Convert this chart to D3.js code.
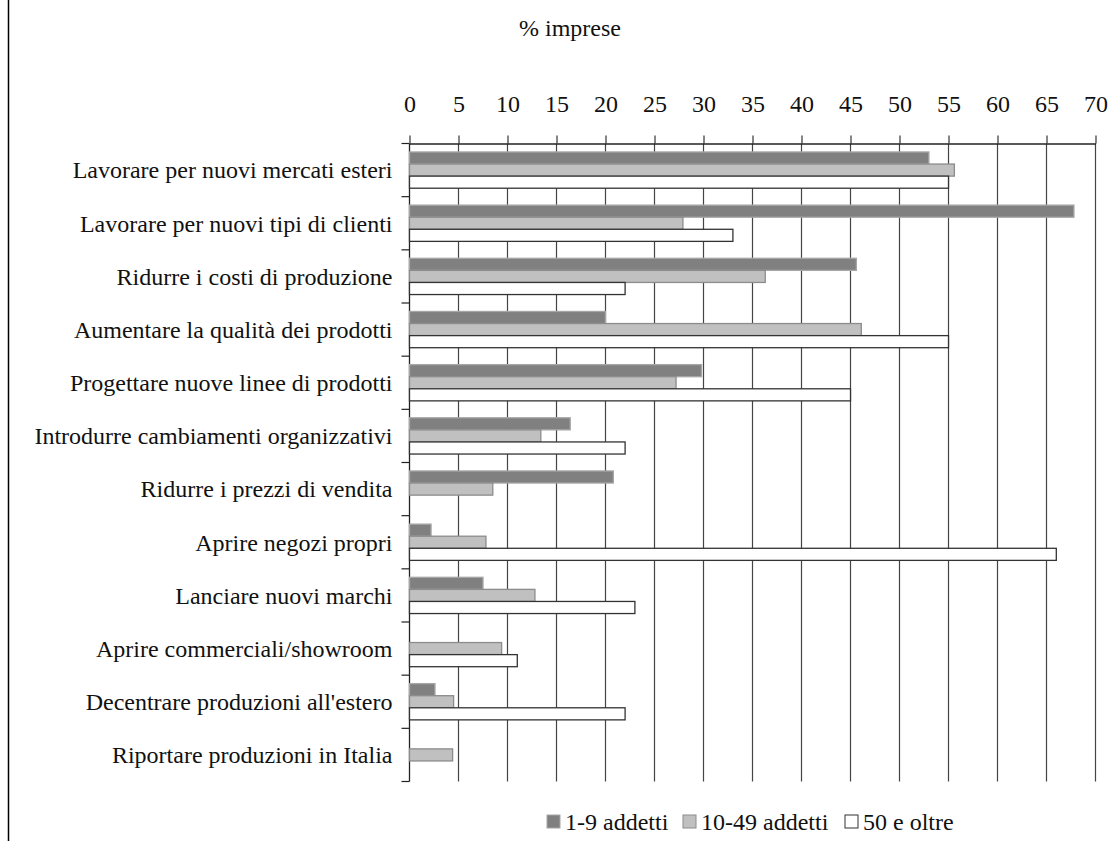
<!DOCTYPE html>
<html>
<head>
<meta charset="utf-8">
<script src="https://cdn.jsdelivr.net/npm/d3@7"></script>
<style>
  body { margin: 0; background: #fff; }
  svg { display: block; }
  svg text { font-family: "Liberation Serif", "Times New Roman", serif; }
</style>
</head>
<body>
<svg width="1120" height="841"></svg>
<script>
// categories and values (% imprese)
const categories = [
    "Lavorare per nuovi mercati esteri",
    "Lavorare per nuovi tipi di clienti",
    "Ridurre i costi di produzione",
    "Aumentare la qualità dei prodotti",
    "Progettare nuove linee di prodotti",
    "Introdurre cambiamenti organizzativi",
    "Ridurre i prezzi di vendita",
    "Aprire negozi propri",
    "Lanciare nuovi marchi",
    "Aprire commerciali/showroom",
    "Decentrare produzioni all'estero",
    "Riportare produzioni in Italia"
];
const seriesNames = ["1-9 addetti", "10-49 addetti", "50 e oltre"];
const small  = [53.0, 67.8, 45.6, 20.0, 29.8, 16.4, 20.8, 2.2, 7.5, 0, 2.6, 0];
const medium = [55.6, 27.9, 36.3, 46.1, 27.2, 13.4, 8.5, 7.8, 12.8, 9.4, 4.5, 4.4];
const large  = [55.0, 33.0, 22.0, 55.0, 45.0, 22.0, 0, 66.0, 23.0, 11.0, 22.0, 0];
const xTicks = d3.range(0, 75, 5);

const fills   = ["#808080", "#c0c0c0", "#ffffff"];
const strokes = ["#a6a6a6", "#8c8c8c", "#333333"];

const svg = d3.select("svg");

const margin = {top: 143.5, left: 409.5},
    width = 686,
    height = 638;

const x = d3.scaleLinear().domain([0, 70]).range([0, width]);
const y = d3.scaleBand().domain(categories).range([0, height]);
const inner = d3.scaleBand().domain(seriesNames).range([0, y.bandwidth()]).paddingOuter(0.7);

// page border line on the left
svg.append("line")
    .attr("x1", 8.5).attr("x2", 8.5)
    .attr("y1", 0).attr("y2", 841)
    .attr("stroke", "#000")
    .attr("stroke-width", 1.5);

const g = svg.append("g").attr("transform", `translate(${margin.left},${margin.top})`);

// vertical gridlines
g.append("g")
    .selectAll("line")
    .data(xTicks.slice(1))
    .join("line")
    .attr("x1", d => x(d)).attr("x2", d => x(d))
    .attr("y1", 0).attr("y2", height)
    .attr("stroke", "#444")
    .attr("stroke-width", 1.2);

// top axis
const xAxis = g.append("g")
    .call(d3.axisTop(x).tickValues(xTicks).tickSize(8).tickPadding(24).tickSizeOuter(0));
xAxis.attr("font-family", null);
xAxis.select(".domain").attr("stroke", "#222").attr("stroke-width", 1.3);
xAxis.selectAll(".tick line").attr("stroke", "#333").attr("stroke-width", 1.2);
xAxis.selectAll("text")
    .attr("font-size", 24)
    .attr("fill", "#111");

// left axis with ticks at band edges
const yAxis = g.append("g");
yAxis.append("line")
    .attr("x1", 0).attr("x2", 0)
    .attr("y1", 0).attr("y2", height)
    .attr("stroke", "#222").attr("stroke-width", 1.3);
yAxis.selectAll("line.edge")
    .data(d3.range(categories.length + 1))
    .join("line")
    .attr("class", "edge")
    .attr("x1", -8).attr("x2", 0)
    .attr("y1", d => d * y.step()).attr("y2", d => d * y.step())
    .attr("stroke", "#222").attr("stroke-width", 1.2);
yAxis.selectAll("text")
    .data(categories)
    .join("text")
    .attr("x", -17)
    .attr("y", d => y(d) + y.bandwidth() / 2)
    .attr("dy", "0.35em")
    .attr("text-anchor", "end")
    .attr("font-size", 24)
    .attr("fill", "#111")
    .text(d => d);

// bars
const series = [small, medium, large];
series.forEach(function (vals, i) {
    g.append("g")
        .selectAll("rect")
        .data(categories.map((c, j) => ({c: c, v: vals[j]})).filter(d => d.v > 0))
        .join("rect")
        .attr("x", 0)
        .attr("y", d => y(d.c) + inner(seriesNames[i]))
        .attr("width", d => x(d.v))
        .attr("height", inner.bandwidth())
        .attr("fill", fills[i])
        .attr("stroke", strokes[i])
        .attr("stroke-width", 1.3);
});

// title
svg.append("text")
    .attr("x", 570)
    .attr("y", 36)
    .attr("text-anchor", "middle")
    .attr("font-size", 24)
    .attr("fill", "#111")
    .text("% imprese");

// legend
const legendX = [547, 683, 845];
const legend = svg.append("g")
    .selectAll("g")
    .data(seriesNames)
    .join("g")
    .attr("transform", (d, i) => `translate(${legendX[i]},822)`);
legend.append("rect")
    .attr("x", 0).attr("y", -7)
    .attr("width", 13).attr("height", 13)
    .attr("fill", (d, i) => fills[i])
    .attr("stroke", (d, i) => i === 2 ? "#333" : strokes[i])
    .attr("stroke-width", 1);
legend.append("text")
    .attr("x", 18)
    .attr("y", 0)
    .attr("dy", "0.35em")
    .attr("font-size", 24)
    .attr("fill", "#111")
    .text(d => d);
</script>
</body>
</html>
